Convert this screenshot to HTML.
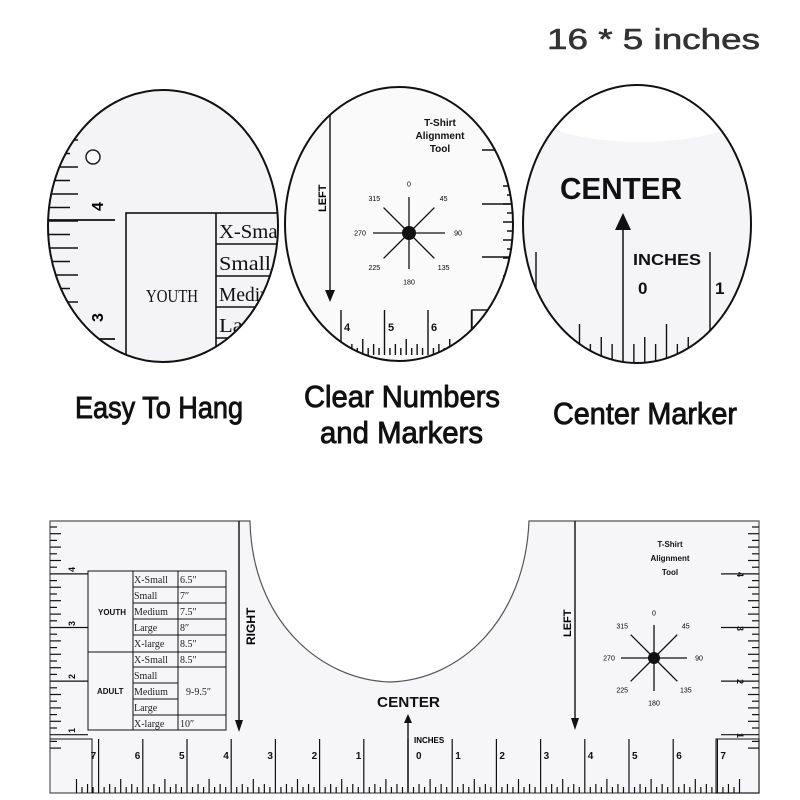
<!DOCTYPE html>
<html><head><meta charset="utf-8"><style>
html,body{margin:0;padding:0;background:#fff;}
svg{display:block;}
</style></head><body>
<svg id="s" width="800" height="800" viewBox="0 0 800 800" xmlns="http://www.w3.org/2000/svg" font-family="Liberation Sans, sans-serif">
<defs>
<clipPath id="c1"><ellipse cx="163" cy="226" rx="115" ry="136"/></clipPath>
<clipPath id="c2"><ellipse cx="399" cy="224" rx="114" ry="137"/></clipPath>
<clipPath id="c3"><ellipse cx="637" cy="224" rx="114" ry="139"/></clipPath>
</defs>
<rect width="800" height="800" fill="#fff"/>
<text x="547" y="49" font-size="29" fill="#333" stroke="#333" stroke-width="0.6" textLength="213" lengthAdjust="spacingAndGlyphs">16 * 5 inches</text>

<g clip-path="url(#c1)">
<rect x="40" y="80" width="250" height="290" fill="#f4f4f6"/>
<g id="e1" stroke="#111" stroke-width="1.6" fill="none"></g>
<circle cx="93" cy="157" r="7" fill="#fff" stroke="#222" stroke-width="1.5"/>
<rect x="126" y="213" width="180" height="170" fill="none" stroke="#111" stroke-width="1.6"/>
<line x1="216" y1="213" x2="216" y2="380" stroke="#111" stroke-width="1.6"/>
<line x1="216" y1="244" x2="300" y2="244" stroke="#111" stroke-width="1.6"/>
<line x1="216" y1="276" x2="300" y2="276" stroke="#111" stroke-width="1.6"/>
<line x1="216" y1="307" x2="300" y2="307" stroke="#111" stroke-width="1.6"/>
<line x1="216" y1="338" x2="300" y2="338" stroke="#111" stroke-width="1.6"/>
<g font-family="Liberation Serif, serif" font-size="20" fill="#111">
<text x="146" y="302" font-size="18" textLength="52" lengthAdjust="spacingAndGlyphs">YOUTH</text>
<text x="219" y="238" textLength="70" lengthAdjust="spacingAndGlyphs">X-Small</text><text x="219" y="270" textLength="52" lengthAdjust="spacingAndGlyphs">Small</text><text x="219" y="301" textLength="66" lengthAdjust="spacingAndGlyphs">Medium</text><text x="219" y="332" textLength="52" lengthAdjust="spacingAndGlyphs">Large</text>
</g>
<text x="97" y="207" font-size="16" font-weight="bold" transform="rotate(-90 97 207) translate(-4 6)">4</text>
<text x="97" y="318" font-size="16" font-weight="bold" transform="rotate(-90 97 318) translate(-4 6)">3</text>
</g>
<ellipse cx="163" cy="226" rx="115" ry="136" fill="none" stroke="#111" stroke-width="2"/>

<g clip-path="url(#c2)">
<rect x="280" y="80" width="240" height="290" fill="#fafafa"/>
<g id="e2" stroke="#111" stroke-width="1.4" fill="none"></g>
<line x1="330" y1="112" x2="330" y2="292" stroke="#111" stroke-width="1.4"/>
<polygon points="325,290 335,290 330,302" fill="#111"/>
<text x="326" y="212" font-size="11" font-weight="bold" transform="rotate(-90 326 212)">LEFT</text>
<g font-size="10" font-weight="bold" text-anchor="middle" fill="#111">
<text x="440" y="126">T-Shirt</text><text x="440" y="139">Alignment</text><text x="440" y="152">Tool</text>
</g>
<g id="cp2"></g>
<rect x="472" y="310" width="50" height="60" fill="none" stroke="#111" stroke-width="1.4"/>
<g font-size="11" font-weight="bold" fill="#111"><text x="344" y="331">4</text><text x="388" y="331">5</text><text x="431" y="331">6</text></g>
</g>
<ellipse cx="399" cy="224" rx="114" ry="137" fill="none" stroke="#111" stroke-width="2"/>

<g clip-path="url(#c3)">
<rect x="520" y="80" width="240" height="290" fill="#f5f5f7"/>
<ellipse cx="640" cy="100" rx="120" ry="42" fill="#fff"/>
<g id="e3" stroke="#111" stroke-width="1.4" fill="none"></g>
<text x="560" y="199" font-size="31" font-weight="bold" textLength="122" lengthAdjust="spacingAndGlyphs" fill="#111">CENTER</text>
<line x1="623" y1="228" x2="623" y2="370" stroke="#111" stroke-width="1.5"/>
<polygon points="615,230 631,230 623,213" fill="#111"/>
<text x="633" y="265" font-size="16" font-weight="bold" textLength="68" lengthAdjust="spacingAndGlyphs" fill="#111">INCHES</text>
<text x="638" y="294" font-size="17" font-weight="bold" fill="#111">0</text>
<text x="715" y="294" font-size="17" font-weight="bold" fill="#111">1</text>
</g>
<ellipse cx="637" cy="224" rx="114" ry="139" fill="none" stroke="#111" stroke-width="2"/>

<g font-size="31" fill="#111" stroke="#111" stroke-width="0.9">
<text x="75" y="418" textLength="168" lengthAdjust="spacingAndGlyphs">Easy To Hang</text>
<text x="304" y="407" textLength="196" lengthAdjust="spacingAndGlyphs">Clear Numbers</text>
<text x="320" y="443" textLength="163" lengthAdjust="spacingAndGlyphs">and Markers</text>
<text x="553" y="424" textLength="184" lengthAdjust="spacingAndGlyphs">Center Marker</text>
</g>

<path d="M50,521 L250,521 C252,620 320,680 390,682 C460,680 525,620 529,521 L759,521 L759,793 L50,793 Z" fill="#f6f6f8" stroke="#555" stroke-width="1.2"/>
<g id="br" stroke="#111" stroke-width="1.2" fill="none"></g>
<g stroke="#111" stroke-width="1" fill="none">
<rect x="88" y="571" width="138" height="159"/>
<line x1="133" y1="571" x2="133" y2="730"/><line x1="178" y1="571" x2="178" y2="730"/>
<line x1="133" y1="587" x2="226" y2="587"/><line x1="133" y1="603" x2="226" y2="603"/>
<line x1="133" y1="619" x2="226" y2="619"/><line x1="133" y1="635" x2="226" y2="635"/>
<line x1="88" y1="652" x2="226" y2="652"/><line x1="133" y1="667" x2="226" y2="667"/>
<line x1="133" y1="683" x2="178" y2="683"/><line x1="133" y1="699" x2="178" y2="699"/>
<line x1="133" y1="715" x2="226" y2="715"/>
</g>
<g font-family="Liberation Serif, serif" font-size="10" fill="#222">
<text x="134" y="583">X-Small</text><text x="180" y="583">6.5″</text>
<text x="134" y="599">Small</text><text x="180" y="599">7″</text>
<text x="134" y="615">Medium</text><text x="180" y="615">7.5″</text>
<text x="134" y="631">Large</text><text x="180" y="631">8″</text>
<text x="134" y="647">X-large</text><text x="180" y="647">8.5″</text>
<text x="134" y="663">X-Small</text><text x="180" y="663">8.5″</text>
<text x="134" y="679">Small</text>
<text x="134" y="695">Medium</text><text x="186" y="695">9-9.5″</text>
<text x="134" y="711">Large</text>
<text x="134" y="727">X-large</text><text x="180" y="727">10″</text>
</g>
<g font-size="8" font-weight="bold" fill="#111"><text x="98" y="615">YOUTH</text><text x="97" y="694">ADULT</text></g>
<line x1="239" y1="521" x2="239" y2="722" stroke="#111" stroke-width="1.4"/>
<polygon points="235,720 243,720 239,732" fill="#111"/>
<text x="255" y="645" font-size="12" font-weight="bold" transform="rotate(-90 255 645)">RIGHT</text>
<line x1="575" y1="521" x2="575" y2="720" stroke="#111" stroke-width="1.4"/>
<polygon points="571,718 579,718 575,730" fill="#111"/>
<text x="571" y="637" font-size="11" font-weight="bold" transform="rotate(-90 571 637)">LEFT</text>
<text x="377" y="707" font-size="15" font-weight="bold" textLength="63" lengthAdjust="spacingAndGlyphs" fill="#111">CENTER</text>
<line x1="408" y1="722" x2="408" y2="792" stroke="#111" stroke-width="1.4"/>
<polygon points="404,723 412,723 408,714" fill="#111"/>
<text x="414" y="743" font-size="8" font-weight="bold">INCHES</text>
<g font-size="8" font-weight="bold" text-anchor="middle" fill="#111">
<text x="670" y="547">T-Shirt</text><text x="670" y="561">Alignment</text><text x="670" y="575">Tool</text>
</g>
<g id="cpb"></g>
<rect x="716" y="739" width="43" height="54" fill="none" stroke="#111" stroke-width="1"/>
<polyline points="50,739 92,739 92,793" fill="none" stroke="#111" stroke-width="1"/>
<g id="blab" font-size="10" font-weight="bold" fill="#111"></g>
</svg>
<script>
var NS="http://www.w3.org/2000/svg";
function L(g,x1,y1,x2,y2,w){var l=document.createElementNS(NS,"line");l.setAttribute("x1",x1);l.setAttribute("y1",y1);l.setAttribute("x2",x2);l.setAttribute("y2",y2);if(w)l.setAttribute("stroke-width",w);g.appendChild(l);}
function T(g,x,y,s,fs,anchor,rot){var t=document.createElementNS(NS,"text");t.setAttribute("x",x);t.setAttribute("y",y);t.setAttribute("font-size",fs);if(anchor)t.setAttribute("text-anchor",anchor);if(rot)t.setAttribute("transform","rotate("+rot+" "+x+" "+y+")");t.textContent=s;g.appendChild(t);}
function compass(g,cx,cy,r,fs,lr,dot){
  var st=document.createElementNS(NS,"g");st.setAttribute("stroke","#111");st.setAttribute("stroke-width","1.3");g.appendChild(st);
  for(var a=0;a<360;a+=45){var rad=a*Math.PI/180;L(st,cx,cy,cx+r*Math.sin(rad),cy-r*Math.cos(rad));
    var tx=cx+lr*Math.sin(rad),ty=cy-lr*Math.cos(rad)+fs*0.35;T(g,tx,ty,String(a),fs,"middle");}
  var c=document.createElementNS(NS,"circle");c.setAttribute("cx",cx);c.setAttribute("cy",cy);c.setAttribute("r",dot);c.setAttribute("fill","#111");g.appendChild(c);
}
var br=document.getElementById("br"),bl=document.getElementById("blab");
var step=44.2,x0=408;
for(var i=-60;i<=60;i++){var x=x0+i*step/8;if(x<51||x>758)continue;var h=(i%8==0)?54:(i%4==0)?14:(i%2==0)?9:6;L(br,x,793,x,793-h);}
for(var k=1;k<=7;k++){T(bl,x0+k*step+3,759,String(k),10);T(bl,x0-k*step-8,759,String(k),10);}
T(bl,416,759,"0",10);
for(var j=0;j<34;j++){var y=527+j*6.7;if(y>790)break;var hh=(j%8==7)?(38):(j%2==1?11:7);L(br,50,y,50+hh,y);L(br,759,y,759-hh,y);}
var vy=[578,632,685,739];
for(var n=0;n<4;n++){T(bl,75,vy[n]-6,String(4-n),9,null,-90);T(bl,737,vy[n]-6,String(4-n),9,null,90);}
compass(document.getElementById("cpb"),654,658,33,7,45,6);
var e1=document.getElementById("e1");
for(var j=0;j<14;j++){var y=140+j*13.5;var hh=(j%2==0)?30:22;L(e1,48,y,48+hh,y,1.6);}
L(e1,48,220,115,220,1.8);L(e1,48,339,115,339,1.8);
var e2=document.getElementById("e2");
for(var i=-30;i<=30;i++){var x=341+i*43.5/8;var h=(i%8==0)?45:(i%4==0)?16:(i%2==0)?11:7;L(e2,x,355,x,355-h);}
for(var j=0;j<20;j++){var y=123+j*9;L(e2,515,y,515-(j%2?12:8),y);}
L(e2,482,150,520,150);L(e2,482,204,520,204);L(e2,482,257,520,257);
var cp2=document.getElementById("cp2");compass(cp2,409,233,36,7,49,7);
var e3=document.getElementById("e3");
for(var i=-20;i<=20;i++){var x=623+i*87/8;var h=(i%8==0)?110:(i%4==0)?38:(i%2==0)?25:18;if(i==0)continue;L(e3,x,362,x,362-h);}
</script>
</body></html>
